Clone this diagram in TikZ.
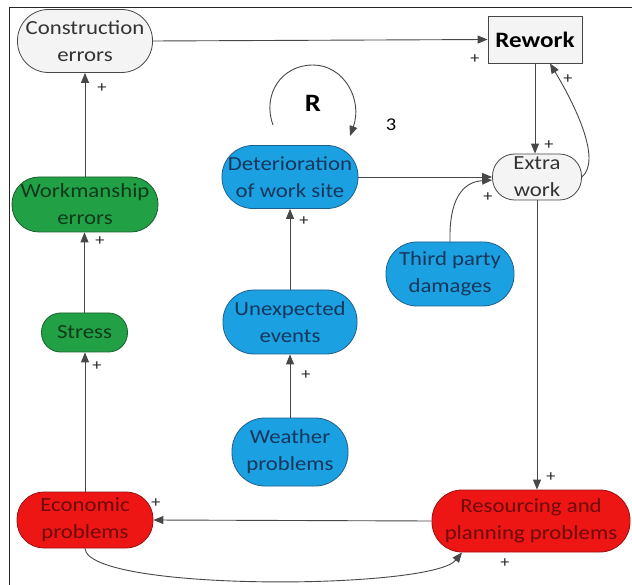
\documentclass[tikz,border=0pt]{standalone}
\usepackage{fontspec}
\setmainfont{Carlito}[FakeStretch=1.14]
\usetikzlibrary{arrows.meta}

\definecolor{linegray}{HTML}{474747}
\definecolor{lightfill}{HTML}{F4F4F4}
\definecolor{bluefill}{HTML}{1BA1E2}
\definecolor{blueline}{HTML}{1F5F8B}
\definecolor{bluetext}{HTML}{16365C}
\definecolor{greenfill}{HTML}{22A046}
\definecolor{greenline}{HTML}{1B5E2E}
\definecolor{greentext}{HTML}{0E3A1A}
\definecolor{redfill}{HTML}{EE1515}
\definecolor{redline}{HTML}{9A1010}
\definecolor{redtext}{HTML}{6E0A0A}

\tikzset{
  every node/.style={font=\fontsize{20}{27}\selectfont, align=center, inner sep=0pt},
  pill/.style={draw, line width=0.8pt, rounded corners=#1},
  lightpill/.style={pill=#1, fill=lightfill, draw=linegray, text=black!80},
  bluepill/.style={pill=#1, fill=bluefill, draw=blueline, text=bluetext},
  greenpill/.style={pill=#1, fill=greenfill, draw=greenline, text=greentext},
  redpill/.style={pill=#1, fill=redfill, draw=redline, text=redtext},
  link/.style={draw=linegray, line width=0.9pt, -{Triangle[length=10pt,width=8pt]}},
  plus/.style={font=\fontsize{16}{16}\selectfont, text=black!85},
}

\begin{document}
\begin{tikzpicture}[x=1pt,y=-1pt]
  % canvas and frame
  \fill[white] (0,0) rectangle (632,585);
  \useasboundingbox (0,0) rectangle (632,585);
  \draw[black!85, line width=1pt] (9,585) -- (9,8) -- (632,8);

  % variables
  \node[lightpill=31pt, minimum width=135pt, minimum height=63pt] (ce) at (85,41) {Construction\\errors};
  \node[draw=linegray, fill=lightfill, line width=0.8pt, minimum width=94pt, minimum height=47pt,
        font=\fontsize{22}{26}\selectfont\bfseries] (rw) at (535,39.5) {Rework};
  \node[bluepill=31pt, minimum width=136pt, minimum height=63pt] (det) at (290,177) {Deterioration\\of work site};
  \node[lightpill=22pt, minimum width=89pt, minimum height=46pt] (ew) at (537,177) {Extra\\work};
  \node[greenpill=27pt, minimum width=146pt, minimum height=55pt] (wm) at (85,204.5) {Workmanship\\errors};
  \node[bluepill=31pt, minimum width=128pt, minimum height=64pt] (tp) at (450,274) {Third party\\damages};
  \node[greenpill=19pt, minimum width=86pt, minimum height=39pt] (st) at (84.5,332.5) {Stress};
  \node[bluepill=31pt, minimum width=134pt, minimum height=64pt] (ue) at (290,322) {Unexpected\\events};
  \node[bluepill=33pt, minimum width=116pt, minimum height=68pt] (wp) at (290,452) {Weather\\problems};
  \node[redpill=27pt, minimum width=136pt, minimum height=56pt] (ep) at (85,520) {Economic\\problems};
  \node[redpill=30pt, minimum width=198pt, minimum height=62pt] (rp) at (531,521) {Resourcing and\\planning problems};

  % causal links
  \draw[link] (ce.east) -- (rw.west);
  \draw[link] (rw.south) -- (rw.south |- ew.north);
  \draw[link] (ew.east) .. controls (602,160) and (575,105) .. ([xshift=15pt]rw.south);
  \draw[link] (det.east) -- (ew.west);
  \draw[link] (tp.north) .. controls (449,200) and (462,182) .. ([yshift=-3pt]ew.west);
  \draw[link] (ew.south) -- (ew.south |- rp.north);
  \draw[link] (rp.west) -- (ep.east);
  \draw[link] (ep.south) .. controls (88,592) and (432,590) .. ([xshift=-69pt]rp.south);
  \draw[link] (ep.north) -- (ep.north |- st.south);
  \draw[link] (st.north) -- (st.north |- wm.south);
  \draw[link] (wm.north) -- (wm.north |- ce.south);
  \draw[link] (ue.north) -- (det.south);
  \draw[link] (wp.north) -- (ue.south);

  % reinforcing loop marker
  \coordinate (loopstart) at (273,125);
  \coordinate (looptop) at (313,65);
  \coordinate (loopend) at (350,136);
  \draw[link] (loopstart) .. controls (262,95) and (281,65) .. (looptop)
                          .. controls (344,65) and (363,100) .. (loopend);
  \node[font=\fontsize{25}{25}\selectfont\bfseries] (rlabel) at (313,103) {R};
  \node[font=\fontsize{18}{18}\selectfont] (loopnum) at (391,125) {3};

  % polarity signs
  \node[plus] (p1) at (475,59) {+};
  \node[plus] (p2) at (549,145) {+};
  \node[plus] (p3) at (568,79) {+};
  \node[plus] (p4) at (488,197) {+};
  \node[plus] (p5) at (551,477) {+};
  \node[plus] (p6) at (156,503) {+};
  \node[plus] (p7) at (505,563) {+};
  \node[plus] (p8) at (97,366) {+};
  \node[plus] (p9) at (100,241) {+};
  \node[plus] (p10) at (102,88) {+};
  \node[plus] (p11) at (304,221) {+};
  \node[plus] (p12) at (306,375) {+};
\end{tikzpicture}
\end{document}
